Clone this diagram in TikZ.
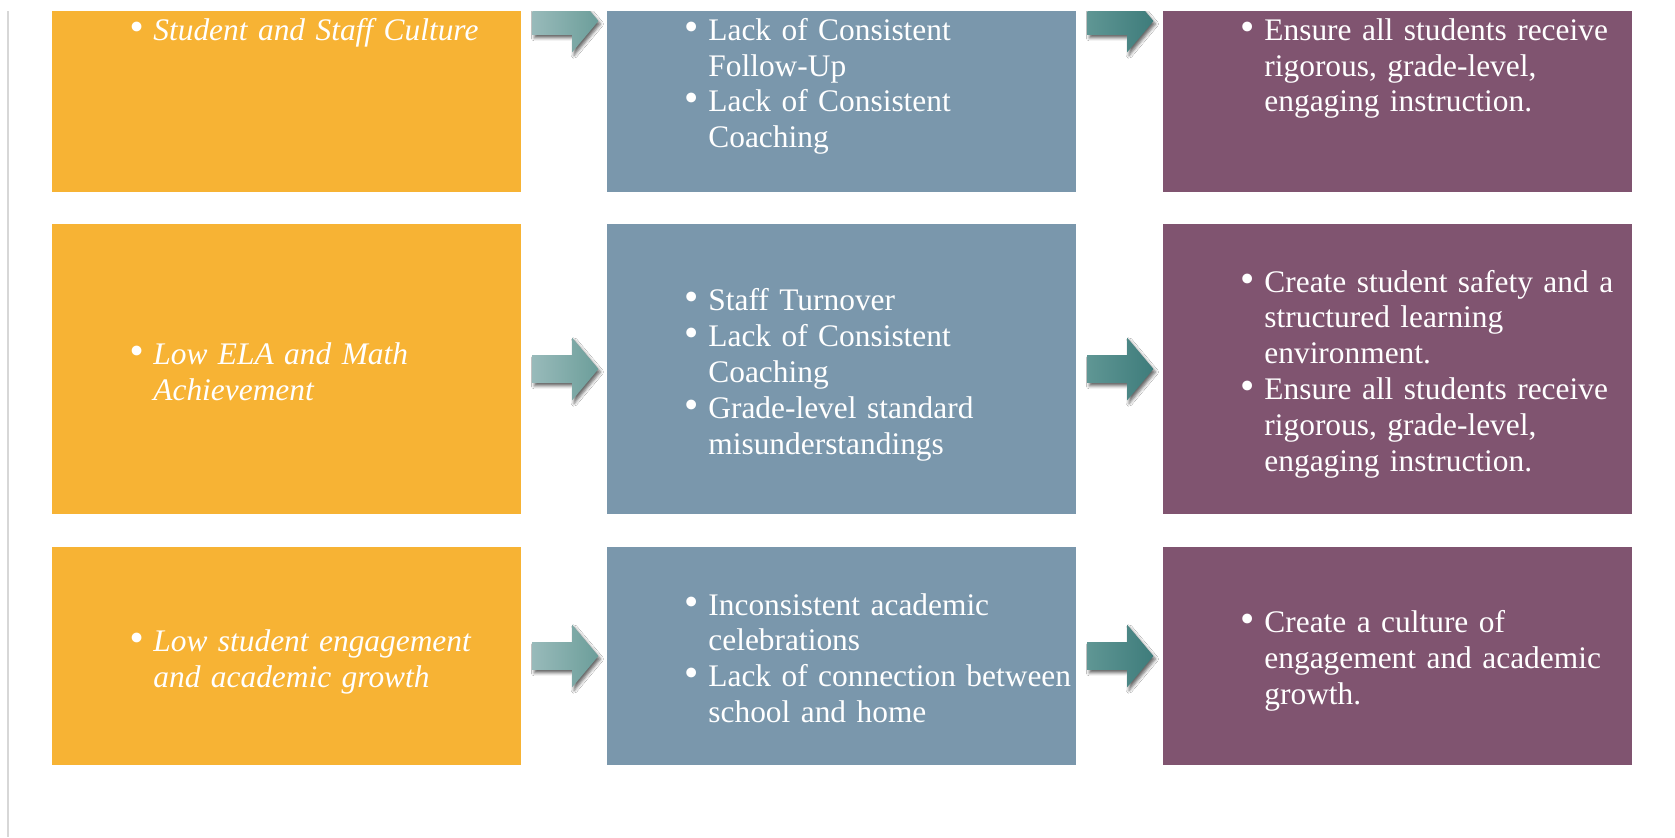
\documentclass[tikz,border=0pt]{standalone}
\usepackage{fontspec}
\setmainfont{Liberation Serif}
\usetikzlibrary{shapes.arrows,shadows.blur}

\definecolor{goldbox}{RGB}{247,179,52}
\definecolor{slatebox}{RGB}{122,151,172}
\definecolor{plumbox}{RGB}{128,84,112}
\definecolor{tealA}{RGB}{152,186,186}
\definecolor{tealB}{RGB}{108,158,154}
\definecolor{tealC}{RGB}{95,150,148}
\definecolor{tealD}{RGB}{62,124,123}
\definecolor{rulegray}{RGB}{215,215,215}

% one bulleted entry, later lines hang under the text
\newcommand{\itm}[1]{\par\hyphenpenalty=10000\relax
  \hangindent=12pt\hangafter=1\noindent
  \makebox[12pt][l]{\scalebox{1.3}{\textbullet}}#1\par}

\tikzset{
  cell/.style={rectangle,inner sep=0pt,minimum width=234.5pt},
  gold/.style={cell,fill=goldbox},
  slate/.style={cell,fill=slatebox},
  plum/.style={cell,fill=plumbox},
  txt/.style={text=white,text width=196pt,inner sep=0pt,align=left,
    font=\fontsize{15.7}{17.9}\selectfont},
  pointer/.style={single arrow,draw=none,anchor=tail,minimum height=33pt,
    inner xsep=0pt,inner ysep=6.75pt,single arrow head extend=8.75pt,
    single arrow tip angle=100,
    blur shadow={shadow xshift=1pt,shadow yshift=-1.5pt,shadow blur radius=1.5pt,
    shadow opacity=60}},
  pointerA/.style={pointer,left color=tealA,right color=tealB},
  pointerB/.style={pointer,left color=tealC,right color=tealD}
}

\begin{document}
\begin{tikzpicture}[x=0.5pt,y=-0.5pt]
  \useasboundingbox (0,0) rectangle (1675,837);
  \fill[white] (0,0) rectangle (1675,837);
  \begin{scope}
  \clip (0,11) rectangle (1675,837);
  \draw[rulegray,line width=1pt] (7.5,11) -- (7.5,837);

  % boxes
  \node[gold,minimum height=146pt] (prob1) at (286.5,46) {};
  \node[slate,minimum height=146pt] (cause1) at (841.5,46) {};
  \node[plum,minimum height=146pt] (strat1) at (1397.5,46) {};
  \node[gold,minimum height=145pt] (prob2) at (286.5,369) {};
  \node[slate,minimum height=145pt] (cause2) at (841.5,369) {};
  \node[plum,minimum height=145pt] (strat2) at (1397.5,369) {};
  \node[gold,minimum height=109pt] (prob3) at (286.5,656) {};
  \node[slate,minimum height=109pt] (cause3) at (841.5,656) {};
  \node[plum,minimum height=109pt] (strat3) at (1397.5,656) {};

  % arrows between the columns
  \foreach \r/\y in {1/21,2/369,3/656} {
    \node[pointerA] (pa\r) at (532,\y) {};
    \node[pointerB] (pb\r) at (1087,\y) {};
  }

  % texts
  \node[txt,anchor=north west] (ptxt1) at (129,4)
    {\itshape\itm{Student and Staff Culture}};
  \node[txt,anchor=north west] (ctxt1) at (684,4)
    {\itm{Lack of Consistent\newline Follow-Up}\itm{Lack of Consistent\newline Coaching}};
  \node[txt,anchor=north west] (stxt1) at (1240,4)
    {\itm{Ensure all students receive\newline rigorous, grade-level,\newline engaging instruction.}};

  \node[txt,anchor=west] (ptxt2) at (129,365)
    {\itshape\itm{Low ELA and Math\newline Achievement}};
  \node[txt,anchor=west] (ctxt2) at (684,368)
    {\itm{Staff Turnover}\itm{Lack of Consistent\newline Coaching}\itm{Grade-level standard\newline misunderstandings}};
  \node[txt,anchor=west] (stxt2) at (1240,367)
    {\itm{Create student safety and a\newline structured learning\newline environment.}\itm{Ensure all students receive\newline rigorous, grade-level,\newline engaging instruction.}};

  \node[txt,anchor=west] (ptxt3) at (129,655)
    {\itshape\itm{Low student engagement\newline and academic growth}};
  \node[txt,anchor=west] (ctxt3) at (684,651)
    {\itm{Inconsistent academic\newline celebrations}\itm{Lack of connection between\newline school and home}};
  \node[txt,anchor=west] (stxt3) at (1240,654)
    {\itm{Create a culture of\newline engagement and academic\newline growth.}};
  \end{scope}
\end{tikzpicture}
\end{document}
